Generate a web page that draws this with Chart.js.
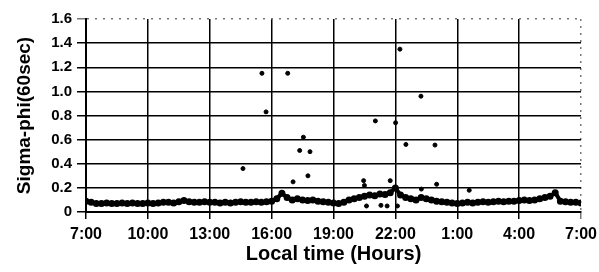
<!DOCTYPE html>
<html>
<head>
<meta charset="utf-8">
<script src="https://cdn.jsdelivr.net/npm/chart.js@4"></script>
<style>
  html, body { margin: 0; padding: 0; background: #fff; }
</style>
</head>
<body>
<canvas id="sigma-chart" width="599" height="272"></canvas>
<script>
// baseline sigma-phi, one reading every 15 minutes from 7:00 to 7:00 next day
const baseStart = 7;
const baseStep = 0.25;
const baseValues = [
    0.09, 0.08, 0.07, 0.07, 0.075, 0.07, 0.07, 0.075, 0.07, 0.075, 0.07, 0.07, 0.075,
    0.07, 0.075, 0.08, 0.08, 0.075, 0.085, 0.095, 0.085, 0.08, 0.08, 0.085, 0.08,
    0.08, 0.075, 0.08, 0.075, 0.08, 0.085, 0.08, 0.08, 0.085, 0.08, 0.085, 0.09,
    0.11, 0.155, 0.12, 0.10, 0.11, 0.10, 0.095, 0.10, 0.09, 0.085, 0.08, 0.075,
    0.07, 0.08, 0.10, 0.11, 0.12, 0.13, 0.14, 0.135, 0.15, 0.145, 0.16, 0.20,
    0.14, 0.12, 0.11, 0.10, 0.12, 0.11, 0.10, 0.09, 0.085, 0.08, 0.075, 0.07,
    0.075, 0.08, 0.075, 0.08, 0.085, 0.08, 0.085, 0.09, 0.085, 0.09, 0.09, 0.095,
    0.10, 0.095, 0.10, 0.11, 0.12, 0.13, 0.16, 0.09, 0.085, 0.08, 0.08, 0.075
];

// isolated spikes (hours after midnight of first day, value)
const spikeHours = [14.61, 15.53, 15.73, 16.78, 17.04, 17.36, 17.54, 17.76, 17.86,
    20.46, 20.5, 20.6, 21.03, 21.3, 21.6, 21.75, 22.01, 22.1, 22.22, 22.51,
    23.24, 23.26, 23.92, 24.0, 25.58];
const spikeValues = [0.36, 1.15, 0.83, 1.15, 0.25, 0.51, 0.62, 0.30, 0.50,
    0.26, 0.22, 0.05, 0.755, 0.055, 0.05, 0.26, 0.74, 0.05, 1.35, 0.56,
    0.96, 0.19, 0.555, 0.23, 0.18];

const yTicks = [0, 0.2, 0.4, 0.6, 0.8, 1, 1.2, 1.4, 1.6];
const xTicks = [7, 10, 13, 16, 19, 22, 25, 28, 31];

const sigmaChart = (function () {
    function getData() {
        const line = baseValues.map(function (v, i) {
            return { x: baseStart + i * baseStep, y: v };
        });
        const spikes = spikeHours.map(function (h, i) {
            return { x: h, y: spikeValues[i] };
        });
        return {
            datasets: [{
                type: 'line',
                data: line,
                borderColor: '#000',
                backgroundColor: '#000',
                borderWidth: 4,
                pointRadius: 1.5,
                tension: 0
            }, {
                type: 'scatter',
                data: spikes,
                borderColor: '#000',
                backgroundColor: '#000',
                pointRadius: 2
            }]
        };
    }

    function config(ele, chartData) {
        const family = 'Liberation Sans, Arial, sans-serif';
        new Chart(ele, {
            data: chartData,
            options: {
                responsive: false,
                animation: false,
                layout: { padding: { top: 19, right: 18, left: 13, bottom: 0 } },
                plugins: { legend: { display: false }, tooltip: { enabled: false } },
                scales: {
                    x: {
                        type: 'linear',
                        min: 7,
                        max: 31,
                        afterBuildTicks: function (scale) {
                            scale.ticks = xTicks.map(function (v) { return { value: v }; });
                        },
                        afterFit: function (scale) {
                            scale.height = 60;
                            scale.paddingLeft = 0;
                            scale.paddingRight = 0;
                        },
                        ticks: {
                            color: '#000',
                            font: { family: family, weight: 'bold', size: 16 },
                            padding: 6,
                            maxRotation: 0,
                            callback: function (v) { return (v % 24) + ':00'; }
                        },
                        grid: {
                            color: function (ctx) { return ctx.tick && ctx.tick.value === 31 ? '#777' : '#000'; },
                            lineWidth: 1.5,
                            tickLength: 7
                        },
                        border: {
                            color: '#000',
                            width: 2,
                            dash: function (ctx) { return ctx.tick && ctx.tick.value === 31 ? [2, 5] : []; }
                        },
                        title: {
                            display: true,
                            text: 'Local time (Hours)',
                            color: '#000',
                            font: { family: family, weight: 'bold', size: 20 },
                            padding: { top: 0, bottom: 6 }
                        }
                    },
                    y: {
                        min: 0,
                        max: 1.6,
                        afterBuildTicks: function (scale) {
                            scale.ticks = yTicks.map(function (v) { return { value: v }; });
                        },
                        afterFit: function (scale) {
                            scale.width = 73;
                            scale.paddingTop = 0;
                            scale.paddingBottom = 0;
                        },
                        ticks: {
                            color: '#000',
                            font: { family: family, weight: 'bold', size: 15 },
                            padding: 5
                        },
                        grid: {
                            color: function (ctx) { return ctx.tick && ctx.tick.value === 1.6 ? '#777' : '#000'; },
                            lineWidth: 1.5,
                            tickLength: 9
                        },
                        border: {
                            color: '#000',
                            width: 2,
                            dash: function (ctx) { return ctx.tick && ctx.tick.value === 1.6 ? [2, 6] : []; }
                        },
                        title: {
                            display: true,
                            text: 'Sigma-phi(60sec)',
                            color: '#000',
                            font: { family: family, weight: 'bold', size: 19 },
                            padding: { top: 0, bottom: 0 }
                        }
                    }
                }
            }
        });
    }

    return {
        configureChart: function () {
            const ele = document.getElementById('sigma-chart');
            config(ele, getData());
        }
    };
})();

sigmaChart.configureChart();
</script>
</body>
</html>
